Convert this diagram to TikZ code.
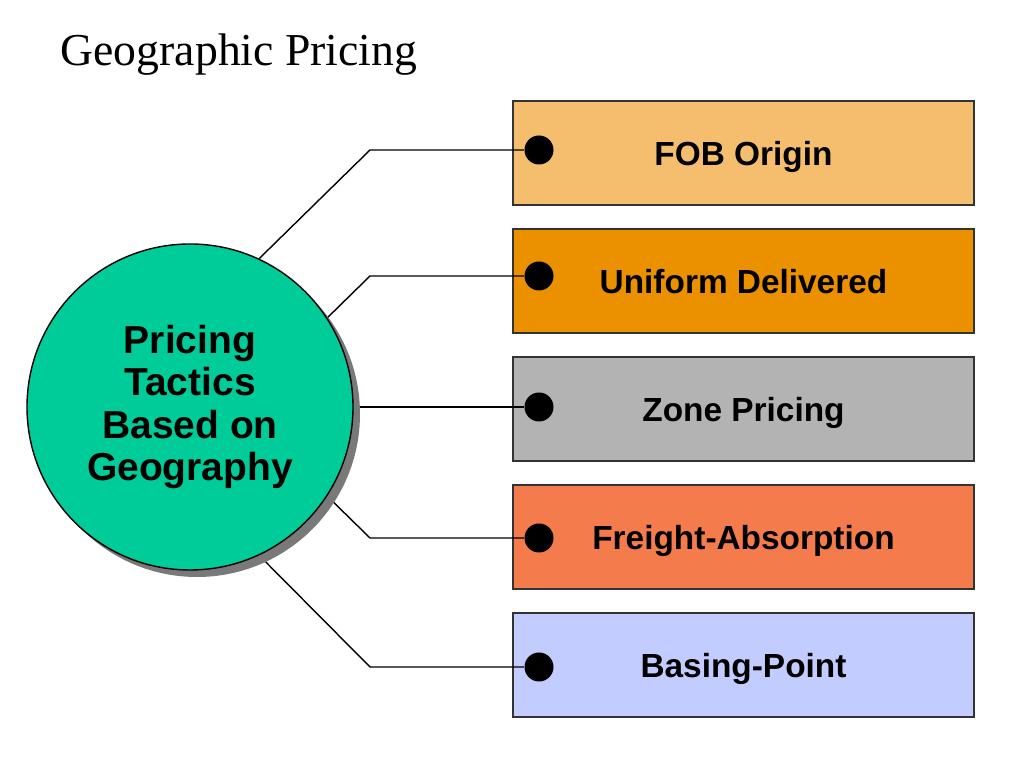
\documentclass[tikz,border=0pt]{standalone}
\usepackage{fontspec}
\setmainfont{Liberation Serif}
\newfontfamily\labelfont{Liberation Sans}
\usetikzlibrary{shadows,backgrounds}
\definecolor{tealgreen}{HTML}{00CC99}
\definecolor{fobcol}{HTML}{F5BE6E}
\definecolor{unicol}{HTML}{EB9100}
\definecolor{zonecol}{HTML}{B3B3B3}
\definecolor{freightcol}{HTML}{F47B4B}
\definecolor{basecol}{HTML}{C3CCFF}
\begin{document}
\begin{tikzpicture}[line width=0.4pt]
	\useasboundingbox (0,0) rectangle (10.24,7.68);
	\node[anchor=base west, inner sep=0, font=\fontsize{13}{15}\selectfont] (title) at (0.60,7.02) {Geographic Pricing};

	\node[circle, draw, fill=tealgreen, minimum size=3.26cm, inner sep=0, align=center,
		drop shadow={shadow xshift=0.07cm, shadow yshift=-0.07cm, fill=gray!95!black, opacity=1},
		font=\labelfont\bfseries\fontsize{11.1}{12}\selectfont] (tactics) at (1.90,3.61)
		{Pricing\\Tactics\\Based on\\Geography};

	\foreach \i/\y/\dy/\ang/\col/\txt in {1/6.15/6.18/65/fobcol/FOB Origin,
		2/4.87/4.92/33/unicol/Uniform Delivered, 3/3.59/3.61/0/zonecol/Zone Pricing,
		4/2.31/2.30/-33/freightcol/Freight-Absorption, 5/1.03/1.01/-65/basecol/Basing-Point}
	{
		\node[circle, fill=black, minimum size=0.29cm, inner sep=0] (dot\i) at (5.39,\dy) {};
		\coordinate (bend\i) at (3.70,\dy);
		\begin{scope}[on background layer]
			\node[draw=black!80, fill=\col, minimum width=4.61cm, minimum height=1.04cm, text depth=0pt,
				font=\labelfont\bfseries\fontsize{9.5}{11}\selectfont] (box\i) at (7.435,\y) {\txt};
			\draw (dot\i) -- (bend\i) -- (tactics.\ang);
		\end{scope}
	}
\end{tikzpicture}
\end{document}
